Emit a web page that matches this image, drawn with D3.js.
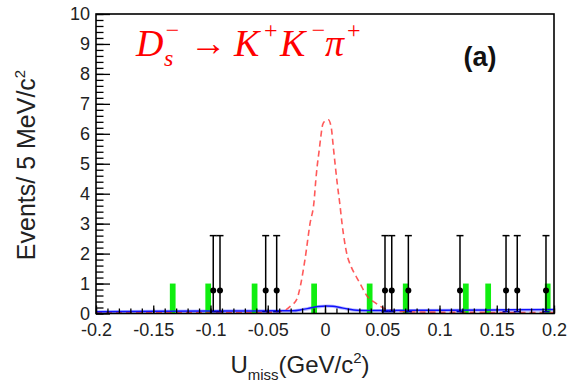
<!DOCTYPE html>
<html>
<head>
<meta charset="utf-8">
<script src="https://cdn.jsdelivr.net/npm/d3@7"></script>
<style>
  html, body { margin: 0; padding: 0; background: #fff; }
  svg { display: block; }
</style>
</head>
<body>
<div id="chart"></div>
<script>
// tick labels
const xTickValues = [-0.2, -0.15, -0.1, -0.05, 0, 0.05, 0.1, 0.15, 0.2];
const xTickLabels = ['-0.2', '-0.15', '-0.1', '-0.05', '0', '0.05', '0.1', '0.15', '0.2'];
const yTickValues = [0, 1, 2, 3, 4, 5, 6, 7, 8, 9, 10];

// green histogram (MC), 5 MeV bins, bin centres
const greenCenters = [-0.133, -0.102, -0.0615, -0.0095, 0.039, 0.0705, 0.123, 0.1425, 0.1945];
const greenCounts = [1, 1, 1, 1, 1, 1, 1, 1, 1];

// black data points with asymmetric errors
const dataX = [-0.0976, -0.0917, -0.0518, -0.0422, 0.0524, 0.0583, 0.0728, 0.1179, 0.1581, 0.1679, 0.193];
const dataY = [0.77, 0.77, 0.77, 0.77, 0.77, 0.77, 0.77, 0.77, 0.77, 0.77, 0.77];
const dataLo = [0.06, 0.06, 0.06, 0.06, 0.06, 0.06, 0.06, 0.06, 0.06, 0.06, 0.06];
const dataHi = [2.6, 2.6, 2.6, 2.6, 2.6, 2.6, 2.6, 2.6, 2.6, 2.6, 2.6];

// red dashed signal shape
const redX = [-0.2, -0.1, -0.05, -0.04, -0.034, -0.03, -0.0247, -0.0175, -0.0131, -0.0096, -0.0079, -0.0067,
  -0.0052, -0.0038, -0.002, 0, 0.0029, 0.0055, 0.0072, 0.0107, 0.0131, 0.0148, 0.019, 0.023, 0.0277, 0.0306,
  0.0364, 0.0437, 0.0539, 0.0626, 0.08, 0.12, 0.2];
const redY = [0.03, 0.03, 0.04, 0.07, 0.13, 0.25, 0.47, 1.8, 3.0, 3.73, 4.51, 4.96,
  5.41, 5.86, 6.31, 6.43, 6.47, 6.2, 5.58, 4.34, 3.61, 3.03, 2.0, 1.55, 1.2, 1.0,
  0.6, 0.36, 0.14, 0.08, 0.05, 0.04, 0.03];

// blue fit and its band
const blueX = [-0.2, -0.1, -0.04, -0.028, -0.02, -0.013, -0.006, 0.001, 0.007, 0.013, 0.02, 0.028, 0.04, 0.1, 0.2];
const blueY = [0.06, 0.08, 0.09, 0.09, 0.13, 0.18, 0.23, 0.25, 0.24, 0.2, 0.15, 0.11, 0.1, 0.11, 0.13];
const bandLo = [0.0, 0.02, 0.03, 0.03, 0.07, 0.12, 0.17, 0.19, 0.18, 0.14, 0.09, 0.05, 0.04, 0.05, 0.06];
const bandHi = [0.11, 0.13, 0.14, 0.14, 0.18, 0.23, 0.28, 0.3, 0.29, 0.25, 0.2, 0.16, 0.15, 0.16, 0.17];

const width = 567;
const height = 385;
const frame = { left: 96, right: 554, top: 14, bottom: 313.5 };

const svg = d3.select('#chart')
  .append('svg')
  .attr('width', width)
  .attr('height', height)
  .style('font-family', '"Liberation Sans", Arial, sans-serif');

const x = d3.scaleLinear().domain([-0.2, 0.2]).range([frame.left, frame.right]);
const y = d3.scaleLinear().domain([0, 10]).range([frame.bottom, frame.top]);

// blue error band
const band = blueX.map((v, i) => ({ x: v, lo: bandLo[i], hi: bandHi[i] }));
svg.append('path')
  .datum(band)
  .attr('fill', '#a3a8ff')
  .attr('opacity', 0.75)
  .attr('d', d3.area().x((d) => x(d.x)).y0((d) => y(d.lo)).y1((d) => y(d.hi)).curve(d3.curveMonotoneX));

// green bars
const half = 0.0025;
svg.selectAll('.bar')
  .data(greenCenters.map((c, i) => ({ c, n: greenCounts[i] })))
  .enter()
  .append('rect')
  .attr('class', 'bar')
  .attr('x', (d) => x(d.c - half))
  .attr('width', (d) => x(d.c + half) - x(d.c - half))
  .attr('y', (d) => y(d.n))
  .attr('height', (d) => y(0) - y(d.n))
  .attr('fill', '#10ee10');

// red dashed curve
svg.append('path')
  .datum(redX.map((v, i) => [v, redY[i]]))
  .attr('fill', 'none')
  .attr('stroke', '#ff3030')
  .attr('stroke-opacity', 0.8)
  .attr('stroke-width', 1.6)
  .attr('stroke-dasharray', '6,4')
  .attr('d', d3.line().x((d) => x(d[0])).y((d) => y(d[1])).curve(d3.curveMonotoneX));

// blue line
svg.append('path')
  .datum(blueX.map((v, i) => [v, blueY[i]]))
  .attr('fill', 'none')
  .attr('stroke', '#1010ff')
  .attr('stroke-width', 1.5)
  .attr('d', d3.line().x((d) => x(d[0])).y((d) => y(d[1])).curve(d3.curveMonotoneX));

// data points
const pts = dataX.map((v, i) => ({ x: v, y: dataY[i], lo: dataLo[i], hi: dataHi[i] }));
const g = svg.append('g');
g.selectAll('.err')
  .data(pts)
  .enter()
  .append('line')
  .attr('x1', (d) => x(d.x)).attr('x2', (d) => x(d.x))
  .attr('y1', (d) => y(d.lo)).attr('y2', (d) => y(d.hi))
  .attr('stroke', '#000').attr('stroke-width', 1.5);
g.selectAll('.cap')
  .data(pts)
  .enter()
  .append('line')
  .attr('x1', (d) => x(d.x) - 3.5).attr('x2', (d) => x(d.x) + 3.5)
  .attr('y1', (d) => y(d.hi)).attr('y2', (d) => y(d.hi))
  .attr('stroke', '#000').attr('stroke-width', 1.5);
g.selectAll('.capLo')
  .data(pts)
  .enter()
  .append('line')
  .attr('x1', (d) => x(d.x) - 3.5).attr('x2', (d) => x(d.x) + 3.5)
  .attr('y1', (d) => y(d.lo)).attr('y2', (d) => y(d.lo))
  .attr('stroke', '#0000aa').attr('stroke-width', 1.5);
g.selectAll('.dot')
  .data(pts)
  .enter()
  .append('circle')
  .attr('cx', (d) => x(d.x))
  .attr('cy', (d) => y(d.y))
  .attr('r', 3)
  .attr('fill', '#000');

// axes
const yMinor = d3.range(0, 10.001, 0.2);
svg.append('g')
  .attr('transform', `translate(${frame.left},0)`)
  .call(d3.axisLeft(y).tickValues(yMinor).tickSize(-7.5).tickFormat(''))
  .call((s) => s.select('.domain').remove())
  .selectAll('line').attr('stroke', '#000').attr('stroke-width', 1.3);

const yAxis = svg.append('g')
  .attr('transform', `translate(${frame.left},0)`)
  .call(d3.axisLeft(y).tickValues(yTickValues).tickSize(-14).tickPadding(6).tickFormat(d3.format('d')));
yAxis.select('.domain').remove();
yAxis.selectAll('line').attr('stroke', '#000').attr('stroke-width', 1.3);
yAxis.selectAll('text').attr('font-size', 18).attr('fill', '#222')
  .attr('font-family', '"Liberation Sans", Arial, sans-serif');

const xMinor = d3.range(-0.2, 0.2001, 0.01);
svg.append('g')
  .attr('transform', `translate(0,${frame.bottom})`)
  .call(d3.axisBottom(x).tickValues(xMinor).tickSize(-5).tickFormat(''))
  .call((s) => s.select('.domain').remove())
  .selectAll('line').attr('stroke', '#000').attr('stroke-width', 1.3);

const xAxis = svg.append('g')
  .attr('transform', `translate(0,${frame.bottom})`)
  .call(d3.axisBottom(x).tickValues(xTickValues).tickSize(-8).tickPadding(10)
    .tickFormat((d, i) => xTickLabels[i]));
xAxis.select('.domain').remove();
xAxis.selectAll('line').attr('stroke', '#000').attr('stroke-width', 1.3);
xAxis.selectAll('text').attr('font-size', 18).attr('fill', '#222')
  .attr('font-family', '"Liberation Sans", Arial, sans-serif');

// frame
svg.append('rect')
  .attr('x', frame.left)
  .attr('y', frame.top)
  .attr('width', frame.right - frame.left)
  .attr('height', frame.bottom - frame.top)
  .attr('fill', 'none')
  .attr('stroke', '#000')
  .attr('stroke-width', 1.6);

// axis titles
svg.append('text')
  .attr('transform', 'translate(35,165) rotate(-90)')
  .attr('text-anchor', 'middle')
  .attr('font-size', 25)
  .attr('fill', '#222')
  .text('Events/ 5 MeV/c')
  .append('tspan')
  .attr('font-size', 15)
  .attr('dy', -10)
  .text('2');

const xt = svg.append('text')
  .attr('x', 300)
  .attr('y', 373)
  .attr('text-anchor', 'middle')
  .attr('font-size', 24)
  .attr('fill', '#222');
xt.append('tspan').text('U');
xt.append('tspan').attr('font-size', 15).attr('dy', 7).text('miss');
xt.append('tspan').attr('dy', -7).text('(GeV/c');
xt.append('tspan').attr('font-size', 15).attr('dy', -10).text('2');
xt.append('tspan').attr('dy', 10).text(')');

// decay label
const serif = '"Liberation Serif", "Times New Roman", serif';
const lab = svg.append('g').attr('fill', '#ff0000').attr('font-family', serif).attr('font-style', 'italic');
lab.append('text').attr('x', 136).attr('y', 56).attr('font-size', 38).text('D');
lab.append('text').attr('x', 164).attr('y', 38).attr('font-size', 24).text('\u2212');
lab.append('text').attr('x', 164).attr('y', 66).attr('font-size', 24).text('s');
lab.append('text').attr('x', 190).attr('y', 55).attr('font-size', 36).attr('font-style', 'normal')
  .attr('textLength', 37).attr('lengthAdjust', 'spacingAndGlyphs').text('\u2192');
lab.append('text').attr('x', 234).attr('y', 56).attr('font-size', 38).text('K');
lab.append('text').attr('x', 264).attr('y', 38).attr('font-size', 24).attr('font-style', 'normal').text('+');
lab.append('text').attr('x', 280).attr('y', 56).attr('font-size', 38).text('K');
lab.append('text').attr('x', 310).attr('y', 38).attr('font-size', 24).text('\u2212');
lab.append('text').attr('x', 325).attr('y', 56).attr('font-size', 38).text('\u03c0');
lab.append('text').attr('x', 347).attr('y', 38).attr('font-size', 24).attr('font-style', 'normal').text('+');

svg.append('text')
  .attr('x', 480)
  .attr('y', 66)
  .attr('text-anchor', 'middle')
  .attr('font-size', 27)
  .attr('font-weight', 'bold')
  .attr('fill', '#111')
  .text('(a)');
</script>
</body>
</html>
